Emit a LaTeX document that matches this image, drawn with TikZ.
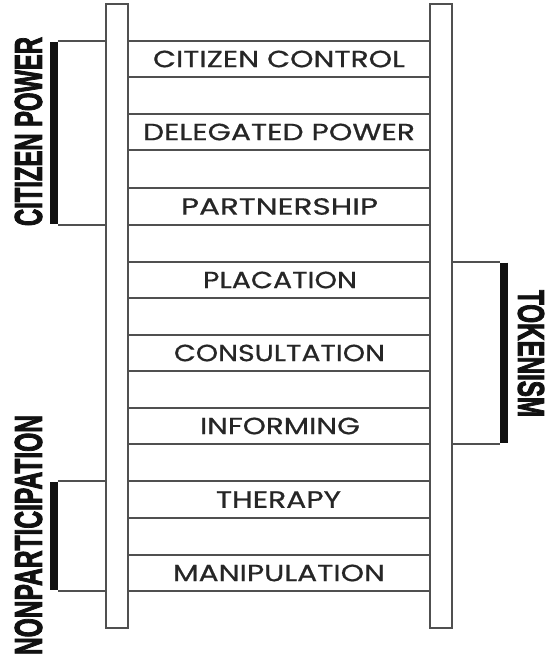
\documentclass[tikz,border=0pt]{standalone}
\usepackage{fontspec}
\setmainfont{Poppins}[FakeBold=0.6]
\newfontfamily\labfont{Poppins}[FakeBold=0.6]
\newfontfamily\headfont{Liberation Sans Bold}[FakeBold=3]
\definecolor{linegray}{HTML}{505050}
\definecolor{textgray}{HTML}{262626}
\definecolor{barblack}{HTML}{111111}
\begin{document}
\begin{tikzpicture}[x=1pt,y=-1pt,
  rail/.style={draw=linegray, line width=1.4pt, fill=white, inner sep=0pt, outer sep=0pt, minimum width=22pt, minimum height=624pt},
  rung/.style={draw=linegray, line width=1.4pt},
  thinlink/.style={draw=linegray, line width=1.2pt},
  bar/.style={draw=barblack, line width=8pt, line cap=butt},
  lab/.style={text=textgray, inner sep=0pt, font=\labfont},
  head/.style={text=barblack, inner sep=0pt, font=\headfont}]
\useasboundingbox (0,0) rectangle (547,657);
\fill[white] (0,0) rectangle (547,657);
% rails
\node[rail] (lrail) at (117,316) {};
\node[rail] (rrail) at (441,316) {};
% rungs
\foreach \y [count=\i] in {41,77,114,150,188,225,262,298,335,371,408,444,481,518,555,591}{
  \coordinate (r\i) at (0,\y);
  \draw[rung] (lrail.east |- r\i) -- (rrail.west |- r\i);
}
% rung labels
\node[lab] (l1) at (279,59)    {\resizebox{252pt}{16.5pt}{CITIZEN CONTROL}};
\node[lab] (l2) at (279,132)   {\resizebox{272pt}{16.5pt}{DELEGATED POWER}};
\node[lab] (l3) at (279.5,206.5) {\resizebox{197pt}{16.5pt}{PARTNERSHIP}};
\node[lab] (l4) at (280,280)   {\resizebox{154pt}{16.5pt}{PLACATION}};
\node[lab] (l5) at (279.5,353) {\resizebox{211pt}{16.5pt}{CONSULTATION}};
\node[lab] (l6) at (280,426)   {\resizebox{160pt}{16.5pt}{INFORMING}};
\node[lab] (l7) at (278.5,499.5) {\resizebox{125pt}{16.5pt}{THERAPY}};
\node[lab] (l8) at (279,573)   {\resizebox{212pt}{16.5pt}{MANIPULATION}};
% bracket coordinates
\coordinate (cpTop) at (54,41);
\coordinate (cpBot) at (54,225);
\coordinate (npTop) at (54,481);
\coordinate (npBot) at (54,591);
\coordinate (tkTop) at (504,262);
\coordinate (tkBot) at (504,444);
% thin links
\draw[thinlink] (lrail.west |- r1) -- ([xshift=4pt]cpTop);
\draw[thinlink] (lrail.west |- r6) -- ([xshift=4pt]cpBot);
\draw[thinlink] (lrail.west |- r13) -- ([xshift=4pt]npTop);
\draw[thinlink] (lrail.west |- r16) -- ([xshift=4pt]npBot);
\draw[thinlink] (rrail.east |- r7) -- ([xshift=-4pt]tkTop);
\draw[thinlink] (rrail.east |- r12) -- ([xshift=-4pt]tkBot);
% bars
\draw[bar] ([yshift=-0.6pt]cpTop) -- ([yshift=0.6pt]cpBot);
\draw[bar] ([yshift=-0.6pt]npTop) -- ([yshift=0.6pt]npBot);
\draw[bar] ([yshift=-0.6pt]tkTop) -- ([yshift=0.6pt]tkBot);
% headings
\node[head, rotate=90] (cp) at (28.5,131.5) {\resizebox{189pt}{27pt}{CITIZEN POWER}};
\node[head, rotate=90] (np) at (28.5,535) {\resizebox{240pt}{27pt}{NONPARTICIPATION}};
\node[head, rotate=-90] (tk) at (531,353.5) {\resizebox{127pt}{26pt}{TOKENISM}};
\end{tikzpicture}
\end{document}
